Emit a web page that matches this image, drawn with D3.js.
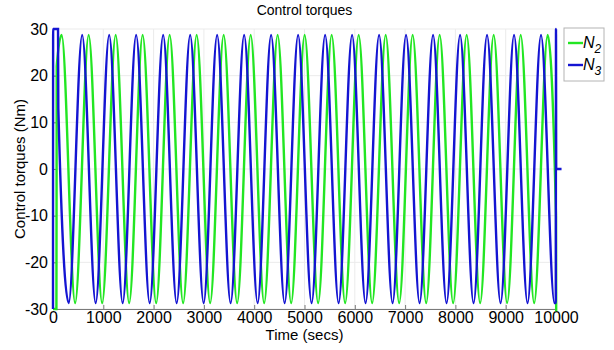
<!DOCTYPE html>
<html>
    <head>
        <meta charset="utf-8">
        <script src="https://d3js.org/d3.v7.min.js"></script>
        <style>
            body { margin: 0; background: white; }
            text { font-family: "Liberation Sans", Arial, sans-serif; fill: #000; }
        </style>
    </head>
    <body>
        <div id="vizBody"></div>
    </body>
    <script>
        //chart texts
        const chartTitle = "Control torques";
        const xTitle = "Time (secs)";
        const yTitle = "Control torques (Nm)";
        const seriesNames = ["N2", "N3"];
        const xTicks = [0, 1000, 2000, 3000, 4000, 5000, 6000, 7000, 8000, 9000, 10000];
        const yTicks = [-30, -20, -10, 0, 10, 20, 30];

        //N2 (green): start transient, then peaks / troughs
        const n2Points = [
            [0, -30], [68, -30], [74, 22], [172, 28.7], [440, -28.7], [709, 28.7], [977, -28.7],
            [1246, 28.7], [1514, -28.7], [1782, 28.7], [2051, -28.7], [2319, 28.7], [2587, -28.7],
            [2856, 28.7], [3124, -28.7], [3393, 28.7], [3661, -28.7], [3930, 28.7], [4198, -28.7],
            [4466, 28.7], [4735, -28.7], [5003, 28.7], [5271, -28.7], [5540, 28.7], [5808, -28.7],
            [6077, 28.7], [6345, -28.7], [6614, 28.7], [6882, -28.7], [7150, 28.7], [7419, -28.7],
            [7687, 28.7], [7955, -28.7], [8224, 28.7], [8492, -28.7], [8761, 28.7], [9029, -28.7],
            [9298, 28.7], [9566, -28.7], [9834, 28.7], [10000, -10], [10004, -30.5]
        ];

        //N3 (blue)
        const n3Points = [
            [0, -30], [3, 30], [100, 30], [106, 13], [312, -28.7], [580, 28.7], [848, -28.7],
            [1117, 28.7], [1385, -28.7], [1653, 28.7], [1922, -28.7], [2190, 28.7], [2458, -28.7],
            [2727, 28.7], [2995, -28.7], [3263, 28.7], [3531, -28.7], [3800, 28.7], [4068, -28.7],
            [4336, 28.7], [4605, -28.7], [4873, 28.7], [5141, -28.7], [5410, 28.7], [5678, -28.7],
            [5946, 28.7], [6214, -28.7], [6483, 28.7], [6751, -28.7], [7019, 28.7], [7288, -28.7],
            [7556, 28.7], [7824, -28.7], [8093, 28.7], [8361, -28.7], [8629, 28.7], [8898, -28.7],
            [9166, 28.7], [9434, -28.7], [9702, 28.7], [9970, -28.7], [9996, -28.7], [10000, 30],
            [10004, 0], [10110, 0]
        ];

        const seriesColors = ["#22e622", "#1414d2"];

        //dimensions of the graph with margins
        let margin = {top: 29, right: 58, bottom: 41, left: 53},
            maxWidth = 614,
            maxHeight = 350,
            width = maxWidth - margin.left - margin.right,
            height = maxHeight - margin.top - margin.bottom;

        let svg = d3.select("#vizBody")
                    .append("svg")
                        .attr("width", maxWidth)
                        .attr("height", maxHeight);

        let vizSpace = svg.append("g")
                          .attr("transform", "translate(" + margin.left + "," + margin.top + ")");

        let xScale = d3.scaleLinear()
                       .domain([0, 10000])
                       .range([0, width]);

        let yScale = d3.scaleLinear()
                       .domain([-30, 30])
                       .range([height, 0]);

        //grid lines
        vizSpace.append("g")
                .selectAll("line")
                .data(xTicks)
                .join("line")
                    .attr("x1", d => xScale(d))
                    .attr("x2", d => xScale(d))
                    .attr("y1", 0)
                    .attr("y2", height)
                    .style("stroke", "#ebebeb");

        vizSpace.append("g")
                .selectAll("line")
                .data(yTicks)
                .join("line")
                    .attr("x1", 0)
                    .attr("x2", width)
                    .attr("y1", d => yScale(d))
                    .attr("y2", d => yScale(d))
                    .style("stroke", "#ebebeb");

        //axes, ticks pointing inside like matlab; plain hyphen for negatives
        let xAxis = vizSpace.append("g")
                            .attr("transform", "translate(0," + height + ")")
                            .call(d3.axisBottom(xScale).tickValues(xTicks).tickFormat(d => String(d))
                                    .tickSizeInner(-4).tickSizeOuter(0).tickPadding(3));

        let yAxis = vizSpace.append("g")
                            .call(d3.axisLeft(yScale).tickValues(yTicks).tickFormat(d => String(d))
                                    .tickSizeInner(-4).tickSizeOuter(0).tickPadding(5));

        [xAxis, yAxis].forEach(a => {
            a.select(".domain").style("stroke", "#7a7a7a");
            a.selectAll(".tick line").style("stroke", "#7a7a7a");
            a.selectAll(".tick text")
             .style("font-size", "16px")
             .style("font-family", "Liberation Sans, Arial, sans-serif");
        });

        //lines
        let line = d3.line()
                     .x(d => xScale(d[0]))
                     .y(d => yScale(d[1]))
                     .curve(d3.curveMonotoneX);

        [n2Points, n3Points].forEach((pts, i) => {
            vizSpace.append("path")
                    .datum(pts)
                    .attr("d", line)
                    .style("fill", "none")
                    .style("stroke", seriesColors[i])
                    .style("stroke-width", 2.4);
        });

        //titles
        svg.append("text")
           .attr("x", margin.left + width / 2)
           .attr("y", 15)
           .attr("text-anchor", "middle")
           .style("font-size", "14px")
           .text(chartTitle);

        svg.append("text")
           .attr("x", margin.left + width / 2)
           .attr("y", 340)
           .attr("text-anchor", "middle")
           .style("font-size", "15px")
           .text(xTitle);

        svg.append("text")
           .attr("transform", "translate(25," + (margin.top + height / 2) + ") rotate(-90)")
           .attr("text-anchor", "middle")
           .style("font-size", "15px")
           .text(yTitle);

        //legend
        let legend = svg.append("g")
                        .attr("transform", "translate(564,28)");

        legend.append("rect")
              .attr("width", 40)
              .attr("height", 53)
              .style("fill", "white")
              .style("stroke", "#b4b4b4");

        seriesNames.forEach((name, i) => {
            let ly = 15 + i * 22;
            legend.append("line")
                  .attr("x1", 4)
                  .attr("x2", 19)
                  .attr("y1", ly)
                  .attr("y2", ly)
                  .style("stroke", seriesColors[i])
                  .style("stroke-width", 2.4);
            let t = legend.append("text")
                          .attr("x", 19)
                          .attr("y", ly + 5)
                          .style("font-size", "16px")
                          .style("font-style", "italic");
            t.append("tspan").text(name[0]);
            t.append("tspan")
             .attr("dy", 5)
             .style("font-size", "12px")
             .text(name.slice(1));
        });
    </script>
</html>
